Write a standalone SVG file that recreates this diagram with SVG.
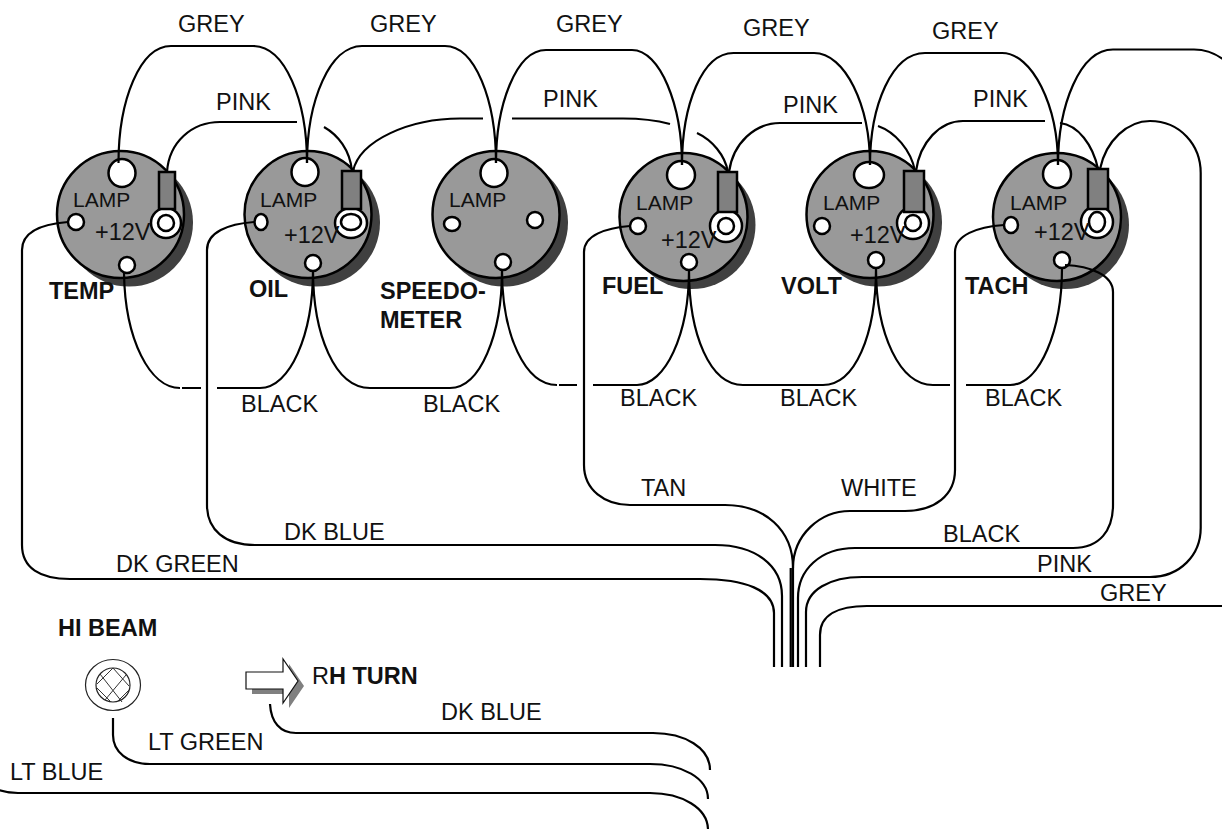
<svg xmlns="http://www.w3.org/2000/svg" width="1222" height="829" viewBox="0 0 1222 829">
<style>
text{font-family:"Liberation Sans",Arial,Helvetica,sans-serif;font-size:23.5px;fill:#111}
.b{font-weight:bold}
.l{font-size:21px}
.sh{fill:#404040}
.d{fill:#999;stroke:#000;stroke-width:2.5}
.t{fill:#808080;stroke:#000;stroke-width:2.5}
.h{fill:#fff;stroke:#000;stroke-width:2.5}
.w{fill:none;stroke:#000;stroke-width:2.2}
.n{fill:none;stroke:#333;stroke-width:1}
</style>
<rect width="1222" height="829" fill="#fff"/>
<g id="temp">
<circle class="sh" cx="129" cy="222.500" r="64"/><circle class="d" cx="120.500" cy="214.500" r="63.500"/>
<ellipse class="h" cx="122" cy="173" rx="13.500" ry="14"/><circle class="h" cx="76" cy="222" r="8"/><circle class="h" cx="127" cy="265" r="8"/>
<circle class="h" cx="166" cy="223" r="15"/><rect class="t" x="159" y="172" width="16" height="37"/><circle class="h" cx="166" cy="223" r="8"/>
<text class="l" x="73" y="207">LAMP</text><text x="95" y="240">+12V</text><text class="b" x="49" y="299">TEMP</text>
</g>
<g id="oil">
<circle class="sh" cx="316" cy="222.500" r="64"/><circle class="d" cx="308" cy="214.500" r="63.500"/>
<ellipse class="h" cx="305" cy="172" rx="13.500" ry="14"/><ellipse class="h" cx="261" cy="222" rx="6.500" ry="8"/><circle class="h" cx="313" cy="263" r="8"/>
<ellipse class="h" cx="351" cy="223" rx="16" ry="15"/><rect class="t" x="342" y="171" width="19" height="38"/><ellipse class="h" cx="351" cy="222" rx="10" ry="8"/>
<text class="l" x="260" y="207">LAMP</text><text x="284" y="243">+12V</text><text class="b" x="249" y="297">OIL</text>
</g>
<g id="speedometer">
<circle class="sh" cx="504" cy="222.500" r="64"/><circle class="d" cx="496" cy="214.500" r="63.500"/>
<ellipse class="h" cx="494" cy="173" rx="13.500" ry="14"/><ellipse class="h" cx="452" cy="224" rx="8" ry="7"/><circle class="h" cx="535" cy="220" r="8"/><circle class="h" cx="503" cy="262" r="8"/>
<text class="l" x="449" y="207">LAMP</text><text class="b" x="380" y="299">SPEEDO-</text><text class="b" x="380" y="328">METER</text>
</g>
<g id="fuel">
<circle class="sh" cx="691.500" cy="225" r="64"/><circle class="d" cx="683.500" cy="217" r="64"/>
<circle class="h" cx="681" cy="175" r="14"/><circle class="h" cx="638" cy="226" r="8"/><circle class="h" cx="689" cy="262" r="8"/>
<circle class="h" cx="726" cy="226" r="16"/><rect class="t" x="718" y="172" width="19" height="40"/><circle class="h" cx="726" cy="226" r="8"/>
<text class="l" x="636" y="210">LAMP</text><text x="661" y="248">+12V</text><text class="b" x="602" y="294">FUEL</text>
</g>
<g id="volt">
<circle class="sh" cx="878" cy="222.500" r="64"/><circle class="d" cx="870" cy="214.500" r="63.500"/>
<ellipse class="h" cx="869" cy="175" rx="15" ry="13"/><circle class="h" cx="822" cy="226" r="8"/><circle class="h" cx="876" cy="260" r="8"/>
<circle class="h" cx="913" cy="223" r="16"/><rect class="t" x="904" y="171" width="20" height="41"/><circle class="h" cx="913" cy="223" r="8"/>
<text class="l" x="823" y="210">LAMP</text><text x="850" y="243">+12V</text><text class="b" x="781" y="294">VOLT</text>
</g>
<g id="tach">
<circle class="sh" cx="1065" cy="225" r="64"/><circle class="d" cx="1057" cy="217" r="64"/>
<circle class="h" cx="1057" cy="174" r="14"/><ellipse class="h" cx="1011" cy="225" rx="7" ry="8"/><circle class="h" cx="1062" cy="260" r="8"/>
<circle class="h" cx="1097" cy="222" r="16"/><rect class="t" x="1088" y="169" width="20" height="40"/><ellipse class="h" cx="1097" cy="222" rx="8" ry="10"/>
<text class="l" x="1010" y="210">LAMP</text><text x="1034" y="240">+12V</text><text class="b" x="965" y="294">TACH</text>
</g>
<g id="hibeam">
<ellipse cx="113" cy="685" rx="27.500" ry="25.500" fill="#fff" stroke="#222" stroke-width="1.200"/>
<circle cx="113" cy="685" r="17" fill="#fff" stroke="#222" stroke-width="1.200"/>
<path class="n" d="M100 674L122 702M113 668L129 686M97 688L111 702M126 675L105 700M113 668L97 684M129 690L117 702"/>
<text class="b" x="58" y="636">HI BEAM</text>
</g>
<g id="rhturn">
<path fill="#808080" d="M252 677H289V664L304 686L289 708V694H252Z"/>
<path fill="#fff" stroke="#111" stroke-width="1.200" d="M246 672H283V659L298 681L283 703V689H246Z"/>
<text x="312" y="684">R<tspan class="b">H TURN</tspan></text>
</g>
<g id="connectors">
<path class="w" d="M118.500 163C118.500 100 140 46 171 46L253 46C285 46 307 100 307 163"/>
<path class="w" d="M307 163C307 100 330 46 362 46L445 46C475 46 496 100 496 163"/>
<path class="w" d="M496 163C496 105 516 50 546 50L632 50C660 50 682 105 682 165"/>
<path class="w" d="M682 165C682 105 702 53 733.500 53L814 53C845 53 870 105 870 165"/>
<path class="w" d="M870 165C870 105 892 53 925 53L1002 53C1032 53 1058 105 1058 165"/>
<path class="w" d="M1058 165C1058 105 1080 49.500 1113 49.500L1194 49.500C1205 49.500 1215 53 1224 60"/>
<path class="w" d="M167 172C169 142 192 122 220 122L297 122"/>
<path class="w" d="M324 127C338 135 350 150 352 171"/>
<path class="w" d="M353 171C360 140 410 118.500 460 118.500L483 118.500"/>
<path class="w" d="M512 118.500L623 118.500C640 118.500 655 120 670 124"/>
<path class="w" d="M697 133C712 140 725 155 728 172"/>
<path class="w" d="M729 172C733 143 755 123 780 123L862 123"/>
<path class="w" d="M878 126C895 132 911 150 915 171"/>
<path class="w" d="M916 171C920 142 940 121 963 121L1045 121"/>
<path class="w" d="M1060 123C1078 125 1093 145 1098 169"/>
<path class="w" d="M1100 169C1106 140 1128 121 1150 121C1180 121 1200.700 145 1200.700 173L1200.700 528C1200.700 555 1180 577 1150 577L862 577C830 577 806 590 806 612L806 667"/>
<path class="w" d="M1222 606L867 606C838 606 820 615 820 635L820 667"/>
<path class="w" d="M68 222C42 224 22 232 22 250L22 545C22 568 40 579 70 579L700 579C745 579 774 590 774 613L774 667"/>
<path class="w" d="M254 222C228 224 207 232 207 250L207 505C207 530 225 545 255 545L715 545C755 545 782 565 782 596L782 667"/>
<path class="w" d="M630 226C606 228 584 235 584 252L584 465C584 490 605 505 630 505L725 505C765 505 793 530 793 568L793 667M790.700 568L790.700 667"/>
<path class="w" d="M1004 225C977 227 955 235 955 252L955 470C955 495 935 511 905 511L850 511C820 511 793 535 793 568"/>
<path class="w" d="M1065 265C1090 266 1113 275 1113 292L1113 505C1113 530 1100 548 1073 548L855 548C820 548 798 570 798 598L798 667"/>
<path class="w" d="M124 273C125 340 150 388 180 388M182 388L201 388M217 388L260 388C290 388 313 335 313 270C313 335 335 388 370 388L450 388C480 388 502 335 502 270C502 335 525 385 557 385M559 385L577 385M593 385L637 385C665 385 689 335 689 270C689 335 710 385 743 385L823 385C855 385 876 335 876 268C876 335 900 385 933 385L950 385M966 385L1010 385C1040 385 1062 330 1062 268"/>
<path class="w" d="M270 704C271 722 280 733 296 733L653 733C685 733 710 748 710 770"/>
<path class="w" d="M113 718L113 735C113 752 128 764 150 764L650 764C682 764 708 778 708 799"/>
<path class="w" d="M-1 790C5 792 10 793 18 793L650 793C682 793 708 808 708 830"/>
</g>
<g id="labels">
<text x="178" y="32">GREY</text><text x="370" y="32">GREY</text><text x="556" y="32">GREY</text><text x="743" y="36">GREY</text><text x="932" y="39">GREY</text>
<text x="216" y="110">PINK</text><text x="543" y="107">PINK</text><text x="783" y="113">PINK</text><text x="973" y="107">PINK</text>
<text x="241" y="412">BLACK</text><text x="423" y="412">BLACK</text><text x="620" y="406">BLACK</text><text x="780" y="406">BLACK</text><text x="985" y="406">BLACK</text>
<text x="641" y="496">TAN</text><text x="841" y="496">WHITE</text><text x="284" y="540">DK BLUE</text><text x="116" y="572">DK GREEN</text>
<text x="943" y="542">BLACK</text><text x="1037" y="572">PINK</text><text x="1100" y="601">GREY</text>
<text x="441" y="720">DK BLUE</text><text x="148" y="750">LT GREEN</text><text x="10" y="780">LT BLUE</text>
</g>
</svg>
